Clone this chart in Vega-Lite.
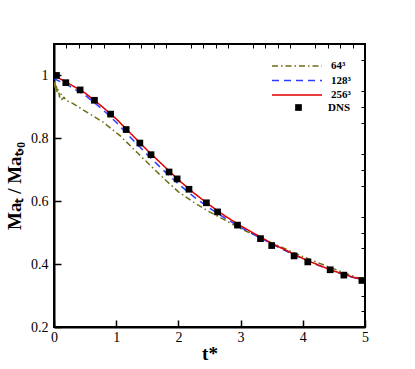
{
  "$schema": "https://vega.github.io/schema/vega-lite/v6.json",
  "autosize": {"type": "none"},
  "padding": {"left": 54, "top": 44, "right": 50, "bottom": 42},
  "width": 311,
  "height": 283,
  "background": "white",
  "config": {
    "view": {"stroke": "black", "strokeWidth": 2},
    "font": "Liberation Serif",
    "axis": {"labelFont": "Liberation Serif", "titleFont": "Liberation Serif", "labelColor": "black", "titleColor": "black", "tickColor": "black", "domainColor": "black"}
  },
  "datasets": {
    "les": [
      {"t": 0, "ma": 0.98, "model": "64³"},
      {"t": 0.02, "ma": 0.958, "model": "64³"},
      {"t": 0.035, "ma": 0.972, "model": "64³"},
      {"t": 0.05, "ma": 0.945, "model": "64³"},
      {"t": 0.07, "ma": 0.956, "model": "64³"},
      {"t": 0.09, "ma": 0.93, "model": "64³"},
      {"t": 0.11, "ma": 0.942, "model": "64³"},
      {"t": 0.13, "ma": 0.924, "model": "64³"},
      {"t": 0.16, "ma": 0.93, "model": "64³"},
      {"t": 0.2, "ma": 0.92, "model": "64³"},
      {"t": 0.3, "ma": 0.911, "model": "64³"},
      {"t": 0.54, "ma": 0.882, "model": "64³"},
      {"t": 0.8, "ma": 0.85, "model": "64³"},
      {"t": 1.07, "ma": 0.807, "model": "64³"},
      {"t": 1.34, "ma": 0.754, "model": "64³"},
      {"t": 1.61, "ma": 0.702, "model": "64³"},
      {"t": 1.8, "ma": 0.666, "model": "64³"},
      {"t": 2.0, "ma": 0.63, "model": "64³"},
      {"t": 2.25, "ma": 0.596, "model": "64³"},
      {"t": 2.5, "ma": 0.566, "model": "64³"},
      {"t": 2.75, "ma": 0.54, "model": "64³"},
      {"t": 3.0, "ma": 0.513, "model": "64³"},
      {"t": 3.25, "ma": 0.49, "model": "64³"},
      {"t": 3.5, "ma": 0.467, "model": "64³"},
      {"t": 3.75, "ma": 0.446, "model": "64³"},
      {"t": 4.0, "ma": 0.424, "model": "64³"},
      {"t": 4.25, "ma": 0.404, "model": "64³"},
      {"t": 4.5, "ma": 0.385, "model": "64³"},
      {"t": 4.75, "ma": 0.366, "model": "64³"},
      {"t": 5.0, "ma": 0.348, "model": "64³"},
      {"t": 0, "ma": 0.99, "model": "128³"},
      {"t": 0.25, "ma": 0.966, "model": "128³"},
      {"t": 0.5, "ma": 0.937, "model": "128³"},
      {"t": 0.75, "ma": 0.897, "model": "128³"},
      {"t": 1.0, "ma": 0.851, "model": "128³"},
      {"t": 1.25, "ma": 0.799, "model": "128³"},
      {"t": 1.5, "ma": 0.748, "model": "128³"},
      {"t": 1.75, "ma": 0.7, "model": "128³"},
      {"t": 2.0, "ma": 0.655, "model": "128³"},
      {"t": 2.25, "ma": 0.614, "model": "128³"},
      {"t": 2.5, "ma": 0.578, "model": "128³"},
      {"t": 2.75, "ma": 0.546, "model": "128³"},
      {"t": 3.0, "ma": 0.517, "model": "128³"},
      {"t": 3.25, "ma": 0.49, "model": "128³"},
      {"t": 3.5, "ma": 0.464, "model": "128³"},
      {"t": 3.75, "ma": 0.44, "model": "128³"},
      {"t": 4.0, "ma": 0.417, "model": "128³"},
      {"t": 4.25, "ma": 0.396, "model": "128³"},
      {"t": 4.5, "ma": 0.377, "model": "128³"},
      {"t": 4.75, "ma": 0.361, "model": "128³"},
      {"t": 5.0, "ma": 0.347, "model": "128³"},
      {"t": 0, "ma": 1.0, "model": "256³"},
      {"t": 0.25, "ma": 0.973, "model": "256³"},
      {"t": 0.5, "ma": 0.944, "model": "256³"},
      {"t": 0.75, "ma": 0.905, "model": "256³"},
      {"t": 1.0, "ma": 0.862, "model": "256³"},
      {"t": 1.25, "ma": 0.812, "model": "256³"},
      {"t": 1.5, "ma": 0.762, "model": "256³"},
      {"t": 1.75, "ma": 0.715, "model": "256³"},
      {"t": 2.0, "ma": 0.668, "model": "256³"},
      {"t": 2.25, "ma": 0.626, "model": "256³"},
      {"t": 2.5, "ma": 0.588, "model": "256³"},
      {"t": 2.75, "ma": 0.553, "model": "256³"},
      {"t": 3.0, "ma": 0.522, "model": "256³"},
      {"t": 3.25, "ma": 0.494, "model": "256³"},
      {"t": 3.5, "ma": 0.466, "model": "256³"},
      {"t": 3.75, "ma": 0.442, "model": "256³"},
      {"t": 4.0, "ma": 0.418, "model": "256³"},
      {"t": 4.25, "ma": 0.397, "model": "256³"},
      {"t": 4.5, "ma": 0.378, "model": "256³"},
      {"t": 4.75, "ma": 0.362, "model": "256³"},
      {"t": 5.0, "ma": 0.348, "model": "256³"}
    ],
    "dns": [
      {"t": 0.04, "ma": 1.0, "src": "DNS"},
      {"t": 0.19, "ma": 0.977, "src": "DNS"},
      {"t": 0.42, "ma": 0.954, "src": "DNS"},
      {"t": 0.65, "ma": 0.921, "src": "DNS"},
      {"t": 0.91, "ma": 0.877, "src": "DNS"},
      {"t": 1.16, "ma": 0.828, "src": "DNS"},
      {"t": 1.38, "ma": 0.785, "src": "DNS"},
      {"t": 1.56, "ma": 0.748, "src": "DNS"},
      {"t": 1.85, "ma": 0.693, "src": "DNS"},
      {"t": 1.98, "ma": 0.671, "src": "DNS"},
      {"t": 2.17, "ma": 0.638, "src": "DNS"},
      {"t": 2.45, "ma": 0.595, "src": "DNS"},
      {"t": 2.63, "ma": 0.566, "src": "DNS"},
      {"t": 2.95, "ma": 0.524, "src": "DNS"},
      {"t": 3.32, "ma": 0.481, "src": "DNS"},
      {"t": 3.5, "ma": 0.459, "src": "DNS"},
      {"t": 3.86, "ma": 0.426, "src": "DNS"},
      {"t": 4.08, "ma": 0.407, "src": "DNS"},
      {"t": 4.44, "ma": 0.382, "src": "DNS"},
      {"t": 4.66, "ma": 0.365, "src": "DNS"},
      {"t": 4.95, "ma": 0.348, "src": "DNS"}
    ]
  },
  "layer": [
    {
      "data": {"name": "les"},
      "mark": {"type": "line", "strokeWidth": 1.5, "clip": true},
      "encoding": {
        "x": {"field": "t", "type": "quantitative", "scale": {"domain": [0, 5], "nice": false, "zero": false},
          "axis": {"values": [0, 1, 2, 3, 4, 5], "format": "d", "title": "t*", "titleFontSize": 19, "titleFontWeight": "bold", "titlePadding": 0, "labelFontSize": 14, "labelPadding": 10, "tickSize": -7, "tickWidth": 1.5, "domainWidth": 2, "grid": false, "labelFlush": false}},
        "y": {"field": "ma", "type": "quantitative", "scale": {"domain": [0.2, 1.1], "nice": false, "zero": false},
          "axis": {"values": [0.2, 0.4, 0.6, 0.8, 1.0], "format": "~g", "title": "Maₜ / Maₜ,₀", "titleFontSize": 19, "titleFontWeight": "bold", "titlePadding": 6, "labelFontSize": 14, "labelPadding": 13, "tickSize": -7, "tickWidth": 1.5, "domainWidth": 2, "grid": false, "labelFlush": false}},
        "color": {"field": "model", "type": "nominal", "scale": {"domain": ["64³", "128³", "256³"], "range": ["#6e6e14", "#2a3cff", "#e00000"]},
          "legend": {"title": null, "orient": "none", "legendX": 237, "legendY": 16, "symbolType": "M-5,0H5", "symbolSize": 100, "symbolStrokeWidth": 1.5, "labelFont": "Liberation Serif", "labelFontSize": 11, "labelFontWeight": "bold", "labelColor": "black", "rowPadding": 3.5, "labelOffset": 28}},
        "strokeDash": {"field": "model", "type": "nominal", "scale": {"domain": ["64³", "128³", "256³"], "range": [[6, 3, 1.5, 3], [7, 5], [1, 0]]},
          "legend": {"title": null, "orient": "none", "legendX": 237, "legendY": 16, "symbolType": "M-5,0H5", "symbolSize": 100, "symbolStrokeWidth": 1.5, "labelFont": "Liberation Serif", "labelFontSize": 11, "labelFontWeight": "bold", "labelColor": "black", "rowPadding": 3.5, "labelOffset": 28}}
      }
    },
    {
      "data": {"name": "dns"},
      "mark": {"type": "point", "filled": true, "opacity": 1, "size": 45, "color": "black"},
      "encoding": {
        "x": {"field": "t", "type": "quantitative",
          "axis": {"values": [0.2, 0.4, 0.6, 0.8, 1.2, 1.4, 1.6, 1.8, 2.2, 2.4, 2.6, 2.8, 3.2, 3.4, 3.6, 3.8, 4.2, 4.4, 4.6, 4.8], "labels": false, "title": null, "tickSize": -4, "tickWidth": 1, "domain": false, "grid": false}},
        "y": {"field": "ma", "type": "quantitative",
          "axis": {"values": [0.25, 0.3, 0.35, 0.45, 0.5, 0.55, 0.65, 0.7, 0.75, 0.85, 0.9, 0.95, 1.05], "labels": false, "title": null, "tickSize": -4, "tickWidth": 1, "domain": false, "grid": false}},
        "shape": {"field": "src", "type": "nominal", "scale": {"domain": ["DNS"], "range": ["square"]},
          "legend": {"title": null, "orient": "none", "legendX": 239, "legendY": 58, "symbolSize": 45, "symbolFillColor": "black", "symbolStrokeColor": "black", "labelFont": "Liberation Serif", "labelFontSize": 11, "labelFontWeight": "bold", "labelColor": "black", "labelOffset": 24}}
      }
    }
  ],
  "resolve": {"axis": {"x": "independent", "y": "independent"}}
}
